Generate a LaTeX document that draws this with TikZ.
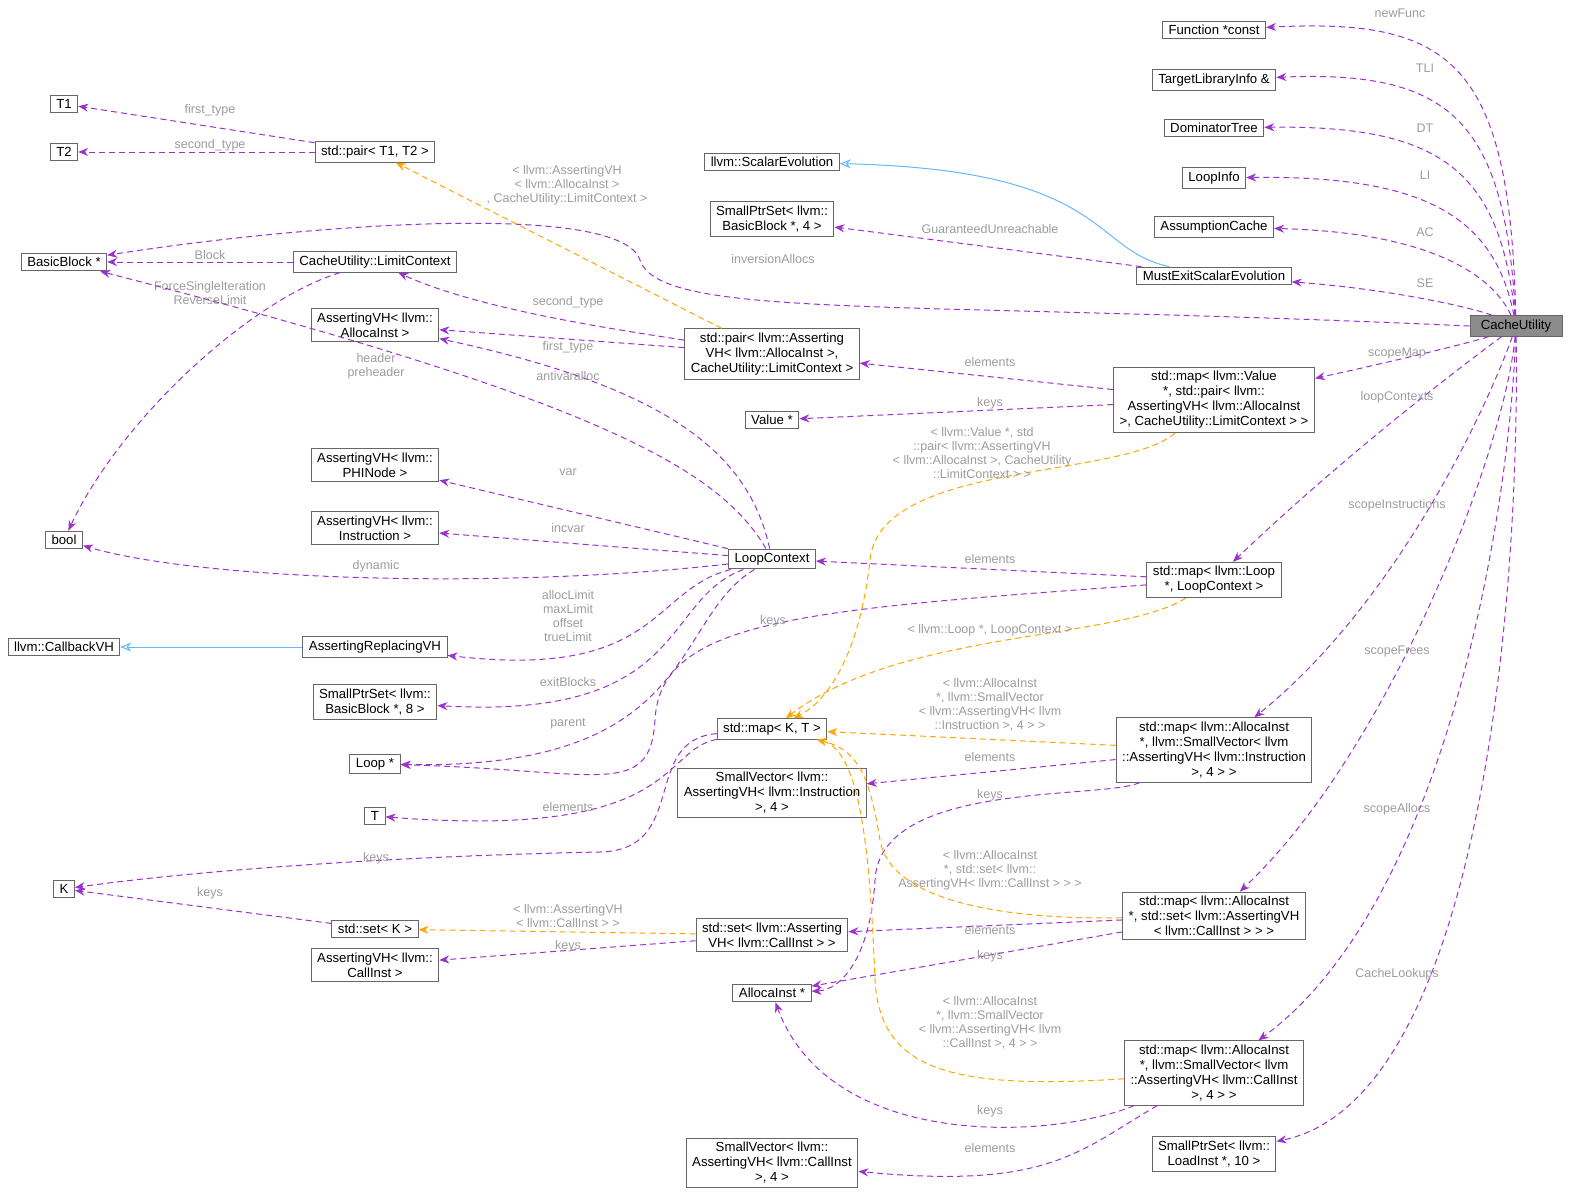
\documentclass[tikz,border=0pt]{standalone}
\usepackage{fontspec}
\setmainfont{Liberation Sans}
\usetikzlibrary{arrows.meta}
\definecolor{ep}{HTML}{9A32CD}
\definecolor{eo}{HTML}{FFA500}
\definecolor{eb}{HTML}{63B8FF}
\definecolor{lg}{HTML}{9C9C9C}
\begin{document}
\begin{tikzpicture}[x=1pt,y=-1pt,line width=1pt,
  n/.style={draw=black!60,fill=white,inner xsep=6pt,inner ysep=4pt,align=center,font=\fontsize{13.2}{15}\selectfont},
  lb/.style={text=lg,align=center,font=\fontsize{12.5}{14}\selectfont,inner sep=0pt},
  e/.style={ep,dash pattern=on 6pt off 4pt,-{Stealth[length=10pt,width=8pt]}},
  o/.style={eo,dash pattern=on 6pt off 4pt,-{Stealth[length=10pt,width=8pt]}},
  b/.style={eb,-{Stealth[length=11pt,width=9pt,open]}}]
\useasboundingbox (0,0) rectangle (1576,1203);
% nodes
\node[n] (fn) at (1214,30) {Function *const};
\node[n] (tli) at (1214,80) {TargetLibraryInfo \&};
\node[n] (dt) at (1214,128) {DominatorTree};
\node[n] (li) at (1214,178) {LoopInfo};
\node[n] (ac) at (1214,227) {AssumptionCache};
\node[n] (mes) at (1214,276) {MustExitScalarEvolution};
\node[n,fill=black!45,minimum width=92pt] (cu) at (1516,326) {CacheUtility};
\node[n] (se) at (772,162) {llvm::ScalarEvolution};
\node[n] (sps4) at (772,219) {SmallPtrSet< llvm::\\BasicBlock *, 4 >};
\node[n] (t1) at (64,104) {T1};
\node[n] (t2) at (64,152) {T2};
\node[n] (pt) at (375,152) {std::pair< T1, T2 >};
\node[n] (bb) at (64,262) {BasicBlock *};
\node[n] (lc) at (375,262) {CacheUtility::LimitContext};
\node[n] (ava) at (375,325) {AssertingVH< llvm::\\AllocaInst >};
\node[n] (pa) at (772,354) {std::pair< llvm::Asserting\\VH< llvm::AllocaInst >,\\ CacheUtility::LimitContext >};
\node[n] (mv) at (1214,400) {std::map< llvm::Value\\ *, std::pair< llvm::\\AssertingVH< llvm::AllocaInst\\ >, CacheUtility::LimitContext > >};
\node[n] (val) at (772,420) {Value *};
\node[n] (aphi) at (375,465) {AssertingVH< llvm::\\PHINode >};
\node[n] (ainst) at (375,528) {AssertingVH< llvm::\\Instruction >};
\node[n] (bool) at (64,540) {bool};
\node[n] (lctx) at (772,559) {LoopContext};
\node[n] (ml) at (1214,580) {std::map< llvm::Loop\\ *, LoopContext >};
\node[n] (cvh) at (64,647) {llvm::CallbackVH};
\node[n] (arvh) at (375,647) {AssertingReplacingVH};
\node[n] (sps8) at (375,702) {SmallPtrSet< llvm::\\BasicBlock *, 8 >};
\node[n] (mkt) at (772,729) {std::map< K, T >};
\node[n] (loop) at (375,764) {Loop *};
\node[n] (mai) at (1214,750) {std::map< llvm::AllocaInst\\ *, llvm::SmallVector< llvm\\::AssertingVH< llvm::Instruction\\ >, 4 > >};
\node[n] (svi) at (772,793) {SmallVector< llvm::\\AssertingVH< llvm::Instruction\\ >, 4 >};
\node[n] (t) at (375,816) {T};
\node[n] (k) at (64,889) {K};
\node[n] (sk) at (375,929) {std::set< K >};
\node[n] (sac) at (772,935) {std::set< llvm::Asserting\\VH< llvm::CallInst > >};
\node[n] (mas) at (1214,916) {std::map< llvm::AllocaInst\\ *, std::set< llvm::AssertingVH\\ < llvm::CallInst > > >};
\node[n] (aci) at (375,965) {AssertingVH< llvm::\\CallInst >};
\node[n] (alloca) at (772,993) {AllocaInst *};
\node[n] (mac) at (1214,1073) {std::map< llvm::AllocaInst\\ *, llvm::SmallVector< llvm\\::AssertingVH< llvm::CallInst\\ >, 4 > >};
\node[n] (svc) at (772,1163) {SmallVector< llvm::\\AssertingVH< llvm::CallInst\\ >, 4 >};
\node[n] (spl) at (1214,1154) {SmallPtrSet< llvm::\\LoadInst *, 10 >};
% CacheUtility edges
\draw[e] (cu) .. controls (1510,60) and (1450,18) .. (fn);
\draw[e] (cu) .. controls (1505,120) and (1450,70) .. (tli);
\draw[e] (cu) .. controls (1500,170) and (1440,125) .. (dt);
\draw[e] (cu) .. controls (1495,220) and (1430,175) .. (li);
\draw[e] (cu) .. controls (1490,270) and (1420,232) .. (ac);
\draw[e] (cu) .. controls (1480,310) and (1400,290) .. (mes);
\draw[e] (cu.west) .. controls (900,300) and (660,320) .. (640,260) .. controls (620,200) and (300,225) .. (bb);
\draw[e] (cu) .. controls (1480,340) and (1400,360) .. (mv);
\draw[e] (cu) .. controls (1470,360) and (1350,450) .. (ml);
\draw[e] (cu) .. controls (1490,400) and (1400,600) .. (mai);
\draw[e] (cu) .. controls (1505,450) and (1390,750) .. (mas);
\draw[e] (cu) .. controls (1510,500) and (1450,900) .. (mac);
\draw[e] (cu) .. controls (1520,600) and (1480,1100) .. (spl);
\node[lb] (l1) at (1400,13) {newFunc};
\node[lb] (l2) at (1425,68) {TLI};
\node[lb] (l3) at (1425,128) {DT};
\node[lb] (l4) at (1425,175) {LI};
\node[lb] (l5) at (1425,232) {AC};
\node[lb] (l6) at (1425,283) {SE};
\node[lb] (l7) at (773,259) {inversionAllocs};
\node[lb] (l8) at (1397,353) {scopeMap};
\node[lb] (l9) at (1397,397) {loopContexts};
\node[lb] (l10) at (1397,505) {scopeInstructions};
\node[lb] (l11) at (1397,651) {scopeFrees};
\node[lb] (l12) at (1397,809) {scopeAllocs};
\node[lb] (l13) at (1397,974) {CacheLookups};
% MustExit
\draw[b] (mes) .. controls (1090,250) and (1110,170) .. (se);
\draw[e] (mes) -- (sps4);
\node[lb] (l14) at (990,229) {GuaranteedUnreachable};
% pairs
\draw[e] (pt) -- (t1);
\draw[e] (pt) -- (t2);
\node[lb] (l15) at (210,110) {first\_type};
\node[lb] (l16) at (210,145) {second\_type};
\draw[o] (pa) -- (pt);
\node[lb] (l17) at (567,185) {< llvm::AssertingVH\\< llvm::AllocaInst >\\, CacheUtility::LimitContext >};
\draw[e] (pa) .. controls (620,330) and (480,310) .. (lc);
\draw[e] (pa) -- (ava);
\node[lb] (l18) at (568,302) {second\_type};
\node[lb] (l19) at (568,347) {first\_type};
\draw[e] (lc) -- (bb);
\node[lb] (l20) at (210,255) {Block};
\draw[e] (lc) .. controls (250,300) and (120,420) .. (bool);
\node[lb] (l21) at (210,293) {ForceSingleIteration\\ReverseLimit};
% map value
\draw[e] (mv) -- (pa);
\draw[e] (mv) -- (val);
\node[lb] (l22) at (990,362) {elements};
\node[lb] (l23) at (990,403) {keys};
\draw[o] (mv) .. controls (1120,480) and (880,460) .. (870,560) .. controls (860,650) and (830,700) .. (mkt);
\node[lb] (l24) at (982,453) {< llvm::Value *, std\\::pair< llvm::AssertingVH\\< llvm::AllocaInst >, CacheUtility\\::LimitContext > >};
% LoopContext
\draw[e] (lctx) .. controls (720,470) and (600,400) .. (bb);
\node[lb] (l25) at (376,366) {header\\preheader};
\draw[e] (lctx) .. controls (750,460) and (680,390) .. (ava);
\node[lb] (l26) at (568,376) {antivaralloc};
\draw[e] (lctx) -- (aphi);
\node[lb] (l27) at (568,472) {var};
\draw[e] (lctx) -- (ainst);
\node[lb] (l28) at (568,528) {incvar};
\draw[e] (lctx) .. controls (500,590) and (200,580) .. (bool);
\node[lb] (l29) at (376,566) {dynamic};
\draw[e] (lctx) .. controls (650,590) and (660,680) .. (arvh);
\node[lb] (l30) at (568,616) {allocLimit\\maxLimit\\offset\\trueLimit};
\draw[e] (lctx) .. controls (660,600) and (690,720) .. (sps8);
\node[lb] (l31) at (568,682) {exitBlocks};
\draw[e] (lctx) .. controls (670,620) and (700,770) .. (loop);
\node[lb] (l32) at (568,724) {parent};
% map loop
\draw[e] (ml) -- (lctx);
\node[lb] (l33) at (990,559) {elements};
\draw[e] (ml) .. controls (800,610) and (660,620) .. (655,720) .. controls (650,800) and (600,770) .. (loop);
\node[lb] (l34) at (773,621) {keys};
\draw[o] (ml) .. controls (1120,640) and (900,630) .. (mkt);
\node[lb] (l35) at (990,630) {< llvm::Loop *, LoopContext >};
\draw[b] (arvh) -- (cvh);
% map K T
\draw[e] (mkt) .. controls (660,750) and (680,840) .. (t);
\node[lb] (l36) at (568,807) {elements};
\draw[e] (mkt) .. controls (640,740) and (690,850) .. (600,852) .. controls (400,856) and (200,870) .. (k);
\node[lb] (l37) at (376,858) {keys};
% map alloca instr
\draw[o] (mai) -- (mkt);
\node[lb] (l38) at (990,705) {< llvm::AllocaInst\\*, llvm::SmallVector\\< llvm::AssertingVH< llvm\\::Instruction >, 4 > >};
\draw[e] (mai) -- (svi);
\node[lb] (l39) at (990,757) {elements};
\draw[e] (mai) .. controls (1100,800) and (880,780) .. (875,880) .. controls (870,960) and (840,990) .. (alloca);
\node[lb] (l40) at (990,795) {keys};
\draw[e] (sk) -- (k);
\node[lb] (l41) at (210,893) {keys};
\draw[o] (sac) -- (sk);
\node[lb] (l42) at (568,916) {< llvm::AssertingVH\\< llvm::CallInst > >};
\draw[e] (sac) -- (aci);
\node[lb] (l43) at (568,946) {keys};
% map alloca set
\draw[o] (mas) .. controls (1000,920) and (890,900) .. (880,840) .. controls (870,780) and (860,750) .. (mkt);
\node[lb] (l44) at (990,870) {< llvm::AllocaInst\\*, std::set< llvm::\\AssertingVH< llvm::CallInst > > >};
\draw[e] (mas) -- (sac);
\node[lb] (l45) at (990,930) {elements};
\draw[e] (mas) -- (alloca);
\node[lb] (l46) at (990,956) {keys};
% map alloca smallvec call
\draw[o] (mac) .. controls (950,1090) and (880,1070) .. (875,980) .. controls (870,850) and (860,750) .. (mkt);
\node[lb] (l47) at (990,1023) {< llvm::AllocaInst\\*, llvm::SmallVector\\< llvm::AssertingVH< llvm\\::CallInst >, 4 > >};
\draw[e] (mac) .. controls (1050,1140) and (830,1150) .. (alloca);
\node[lb] (l48) at (990,1111) {keys};
\draw[e] (mac) .. controls (1080,1150) and (1050,1190) .. (svc);
\node[lb] (l49) at (990,1148) {elements};
\end{tikzpicture}
\end{document}
